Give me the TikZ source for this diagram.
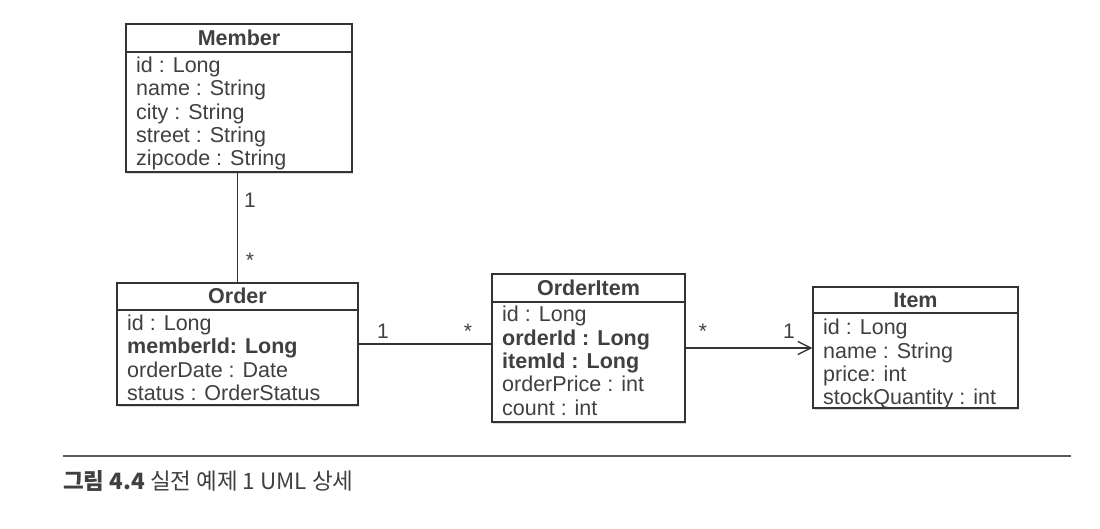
\documentclass[tikz,border=0pt]{standalone}
\usepackage{fontspec}
\setmainfont{Liberation Sans}
\newfontfamily\krfont{Noto Sans CJK KR}
\usetikzlibrary{arrows.meta,shadows}
\definecolor{ink}{HTML}{404040}
\definecolor{edge}{HTML}{333333}
\tikzset{
  classbox/.style={draw=edge, line width=1.4pt, fill=white, inner sep=0pt,
    drop shadow={shadow xshift=0.8pt, shadow yshift=-1.8pt, opacity=0.3}},
  title/.style={inner sep=0pt, text=ink, font=\fontsize{21.5}{23.5}\selectfont\bfseries},
  attrs/.style={inner sep=0pt, anchor=north west, align=left, text=ink, font=\fontsize{21.5}{23.4}\selectfont},
  sepline/.style={draw=edge, line width=1.2pt},
  conn/.style={draw=edge, line width=1.3pt},
  mult/.style={inner sep=0pt, text=ink, font=\fontsize{21}{23}\selectfont},
}
\begin{document}
\begin{tikzpicture}[x=1pt,y=-1pt]
\useasboundingbox (0,0) rectangle (1100,528);

% Member
\node[classbox, minimum width=226pt, minimum height=148pt] (member) at (239,98) {};
\draw[sepline] (member.west |- 0,52) -- (member.east |- 0,52);
\node[title] (membert) at (239,38) {Member};
\node[attrs] (membera) at (136,56.5) {id : Long\\name : String\\city : String\\street : String\\zipcode : String};

% Order
\node[classbox, minimum width=241pt, minimum height=122pt] (order) at (237.5,344) {};
\draw[sepline] (order.west |- 0,310) -- (order.east |- 0,310);
\node[title] (ordert) at (237.5,296) {Order};
\node[attrs] (ordera) at (127,314.5) {id : Long\\\textbf{memberId: Long}\\orderDate : Date\\status : OrderStatus};

% OrderItem
\node[classbox, minimum width=193pt, minimum height=148pt] (orderitem) at (588.5,348) {};
\draw[sepline] (orderitem.west |- 0,302) -- (orderitem.east |- 0,302);
\node[title] (orderitemt) at (588.5,288) {OrderItem};
\node[attrs] (orderitema) at (502,306) {id : Long\\\textbf{orderId : Long}\\\textbf{itemId : Long}\\orderPrice : int\\count : int};

% Item
\node[classbox, minimum width=205pt, minimum height=121pt] (item) at (915.5,347.5) {};
\draw[sepline] (item.west |- 0,313) -- (item.east |- 0,313);
\node[title] (itemt) at (915.5,300) {Item};
\node[attrs] (itema) at (823,319) {id : Long\\name : String\\price: int\\stockQuantity : int};

% connectors
\draw[conn] (order.north) -- (order.north |- member.south);
\node[mult] (m1) at (250,200) {1};
\node[mult] (m2) at (250,260) {*};

\draw[conn] (order.east) -- (order.east -| orderitem.west);
\node[mult] (o1) at (383,331) {1};
\node[mult] (o2) at (468,331) {*};

\draw[conn, -{Straight Barb[length=13pt,width=13pt,line width=1.3pt]}] (orderitem.east) -- (orderitem.east -| item.west);
\node[mult] (i1) at (703,331) {*};
\node[mult] (i2) at (789,331) {1};

% caption
\coordinate (capl) at (63,456);
\coordinate (capr) at (1071,456);
\draw[draw=edge!80, line width=1.2pt] (capl) -- (capr);
\node[anchor=west, inner sep=0pt, text=ink, font=\krfont\fontsize{22.5}{26}\selectfont] (caption) at (63,481) {\textbf{그림 4.4} 실전 예제 1 UML 상세};
\end{tikzpicture}
\end{document}
